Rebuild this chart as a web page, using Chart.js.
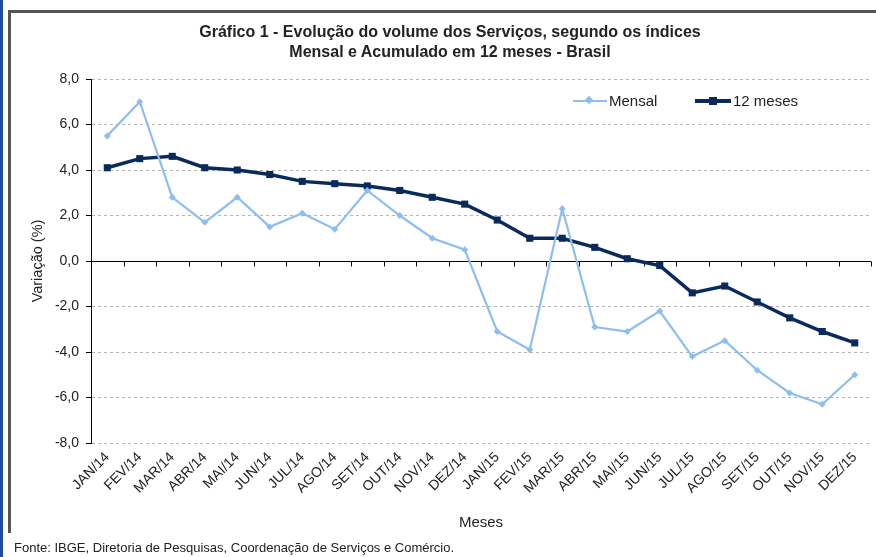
<!DOCTYPE html>
<html>
<head>
<meta charset="utf-8">
<script src="https://cdn.jsdelivr.net/npm/chart.js@4.4.1/dist/chart.umd.min.js"></script>
<style>
  html, body { margin: 0; padding: 0; background: #fff; }
  #wrap { position: relative; width: 876px; height: 557px; overflow: hidden; background: #fff; font-family: "Liberation Sans", Arial, sans-serif; }
  #c { position: absolute; left: 0; top: 0; }
  .bluebar { position: absolute; left: 0; top: 0; width: 3px; height: 557px; background: #1F4E96; }
  .frameL { position: absolute; left: 8px; top: 10px; width: 3px; height: 523px; background: #555; }
  .frameT { position: absolute; left: 8px; top: 10px; width: 868px; height: 3px; background: #555; }
  #title { position: absolute; left: 0; width: 900px; top: 22px; text-align: center; font-weight: bold; font-size: 16px; line-height: 20px; color: #222; }
  #footer { position: absolute; left: 14px; top: 540px; font-size: 13px; color: #222; white-space: nowrap; }
  .leg { position: absolute; top: 92px; font-size: 15px; color: #222; height: 18px; line-height: 18px; white-space: nowrap; }
  .leg .ln { position: absolute; top: 8px; }
  .leg .mk { position: absolute; }
  .leg .tx { position: absolute; top: 0; }
</style>
</head>
<body>
<div id="wrap">
  <canvas id="c" width="876" height="557"></canvas>
  <div class="bluebar"></div>
  <div class="frameL"></div>
  <div class="frameT"></div>
  <div id="title">Gráfico 1 - Evolução do volume dos Serviços, segundo os índices<br>Mensal e Acumulado em 12 meses - Brasil</div>
  <div class="leg" style="left:573px;">
    <div class="ln" style="left:0;width:34px;height:2px;background:#8DBEEE;"></div>
    <div class="mk" style="left:13px;top:5px;width:6px;height:6px;background:#8DBEEE;transform:rotate(45deg);"></div>
    <div class="tx" style="left:36px;">Mensal</div>
  </div>
  <div class="leg" style="left:695px;">
    <div class="ln" style="left:0;width:36px;height:4px;top:7px;background:#0A2A5C;"></div>
    <div class="mk" style="left:14px;top:5px;width:8px;height:8px;background:#0A2A5C;"></div>
    <div class="tx" style="left:38px;">12 meses</div>
  </div>
  <div id="footer">Fonte: IBGE, Diretoria de Pesquisas, Coordenação de Serviços e Comércio.</div>
</div>
<script>
const categories = ["JAN/14","FEV/14","MAR/14","ABR/14","MAI/14","JUN/14","JUL/14","AGO/14","SET/14","OUT/14","NOV/14","DEZ/14",
                    "JAN/15","FEV/15","MAR/15","ABR/15","MAI/15","JUN/15","JUL/15","AGO/15","SET/15","OUT/15","NOV/15","DEZ/15"];
const mensal = [5.5, 7.0, 2.8, 1.7, 2.8, 1.5, 2.1, 1.4, 3.1, 2.0, 1.0, 0.5,
                -3.1, -3.9, 2.3, -2.9, -3.1, -2.2, -4.2, -3.5, -4.8, -5.8, -6.3, -5.0];
const meses12 = [4.1, 4.5, 4.6, 4.1, 4.0, 3.8, 3.5, 3.4, 3.3, 3.1, 2.8, 2.5,
                 1.8, 1.0, 1.0, 0.6, 0.1, -0.2, -1.4, -1.1, -1.8, -2.5, -3.1, -3.6];
const yTicks = [-8, -6, -4, -2, 0, 2, 4, 6, 8];

const FONT = "'Liberation Sans', Arial, sans-serif";

const zeroAxis = {
  id: 'zeroAxis',
  beforeDatasetsDraw(chart) {
    const { ctx, chartArea, scales } = chart;
    const y0 = Math.round(scales.y.getPixelForValue(0)) + 0.5;
    const n = categories.length;
    const w = chartArea.width / n;
    ctx.save();
    ctx.strokeStyle = '#000';
    ctx.lineWidth = 1;
    ctx.setLineDash([]);
    ctx.beginPath();
    ctx.moveTo(chartArea.left, y0);
    ctx.lineTo(chartArea.right, y0);
    for (let i = 1; i <= n; i++) {
      const x = Math.round(chartArea.left + i * w) + 0.5;
      ctx.moveTo(x, y0);
      ctx.lineTo(x, y0 + 5);
    }
    ctx.stroke();
    ctx.restore();
  }
};

new Chart(document.getElementById('c'), {
  type: 'line',
  data: {
    labels: categories,
    datasets: [
      {
        label: 'Mensal',
        data: mensal,
        borderColor: '#8DBEEE',
        backgroundColor: '#8DBEEE',
        borderWidth: 2.2,
        pointStyle: 'rectRot',
        pointRadius: 3.5,
        pointBorderWidth: 0,
        tension: 0
      },
      {
        label: '12 meses',
        data: meses12,
        borderColor: '#0A2A5C',
        backgroundColor: '#0A2A5C',
        borderWidth: 3.5,
        pointStyle: 'rect',
        pointRadius: 5,
        pointBorderWidth: 0,
        tension: 0
      }
    ]
  },
  options: {
    responsive: false,
    animation: false,
    devicePixelRatio: 1,
    layout: { padding: { left: 26, top: 79, right: 5, bottom: 22 } },
    plugins: {
      legend: { display: false },
      title: { display: false },
      tooltip: { enabled: false }
    },
    scales: {
      x: {
        type: 'category',
        offset: true,
        grid: { display: false, drawTicks: false },
        border: { display: false },
        ticks: {
          autoSkip: false,
          minRotation: 45,
          maxRotation: 45,
          padding: 6,
          color: '#222',
          font: { family: FONT, size: 14 }
        },
        title: {
          display: true,
          text: 'Meses',
          color: '#222',
          font: { family: FONT, size: 15 },
          padding: { top: 2, bottom: 3 }
        },
        afterFit(scale) { scale.height = 92; }
      },
      y: {
        min: -8,
        max: 8,
        afterBuildTicks(scale) { scale.ticks = yTicks.map(v => ({ value: v })); },
        grid: {
          color: '#B4B4B4',
          tickLength: 5,
          tickColor: '#000',
          tickBorderDash: [],
          lineWidth: 1
        },
        border: { display: true, color: '#000', width: 1, dash: [3, 3] },
        ticks: {
          padding: 7,
          color: '#222',
          font: { family: FONT, size: 14 },
          callback: v => v.toFixed(1).replace('.', ',')
        },
        title: {
          display: true,
          text: 'Variação (%)',
          color: '#222',
          font: { family: FONT, size: 14.5 },
          padding: { top: 3, bottom: 4 }
        },
        afterFit(scale) { scale.width = 65; }
      }
    }
  },
  plugins: [zeroAxis]
});
</script>
</body>
</html>
